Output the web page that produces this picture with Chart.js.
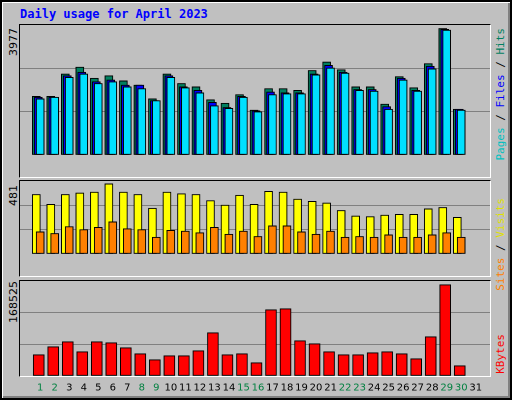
<!DOCTYPE html>
<html>
<head>
<meta charset="utf-8">
<script src="https://cdn.jsdelivr.net/npm/chart.js@4/dist/chart.umd.min.js"></script>
<style>
  body { margin: 0; background: #fff; }
  #frame { position: absolute; left: 0; top: 0; width: 508px; height: 396px; background: #c0c0c0;
           border: 2px solid #000; box-shadow: inset 1px 1px 0 #fff, inset -2px -2px 0 #808080; }
  canvas, .panel, .lbl { position: absolute; }
  .panel { border-top: 1px solid #000; border-left: 1px solid #000; border-right: 1px solid #fff; border-bottom: 1px solid #fff; pointer-events: none; z-index: 2; }
  .lbl { font-family: "DejaVu Sans Mono", monospace; font-size: 11px; writing-mode: vertical-rl; transform: rotate(180deg); white-space: nowrap; }
  #title { position: absolute; left: 20px; top: 7px; font: bold 12px "DejaVu Sans Mono", monospace; color: #0000ff; }
</style>
</head>
<body>
<div id="frame"></div>
<div id="title">Daily usage for April 2023</div>

<div class="panel" style="left:19px;top:24px;width:470px;height:152px"></div>
<div class="panel" style="left:19px;top:180px;width:470px;height:95px"></div>
<div class="panel" style="left:19px;top:280px;width:470px;height:95px"></div>

<canvas id="c1" width="470" height="152" style="left:20px;top:25px;width:470px;height:152px"></canvas>
<canvas id="c2" width="470" height="95" style="left:20px;top:181px;width:470px;height:95px"></canvas>
<canvas id="c3" width="470" height="117" style="left:20px;top:281px;width:470px;height:117px"></canvas>

<div class="lbl" style="left:7px;top:28px;font-family:'DejaVu Sans';">3977</div>
<div class="lbl" style="left:7px;top:185px;font-family:'DejaVu Sans';">481</div>
<div class="lbl" style="left:7px;top:281px;font-family:'DejaVu Sans';">168525</div>
<div class="lbl" style="left:494px;top:28px"><span style="color:#00c0c0">Pages</span> / <span style="color:#0000ff">Files</span> / <span style="color:#008060">Hits</span></div>
<div class="lbl" style="left:494px;top:198px"><span style="color:#ff8000">Sites</span> / <span style="color:#e0e000">Visits</span></div>
<div class="lbl" style="left:494px;top:334px;color:#ff0000">KBytes</div>

<script>
const days = Array.from({length: 31}, (_, i) => i + 1);
const weekends = [1, 2, 8, 9, 15, 16, 22, 23, 29, 30];

const hits  = [1845,1845,2547,2763,2412,2493,2331,2196,1764,2547,2250,2142,1737,1629,1899,1413,2088,2088,2034,2655,2925,2682,2142,2142,1602,2466,2115,2871,3977,1440];
const files = [1818,1818,2493,2601,2304,2358,2196,2196,1710,2493,2142,2034,1656,1494,1845,1386,1980,1953,1953,2547,2817,2601,2061,2061,1521,2412,2034,2790,3950,1440];
const pages = [1764,1818,2439,2547,2250,2304,2142,2088,1710,2439,2115,1953,1548,1467,1818,1359,1899,1926,1926,2520,2736,2574,2034,2007,1440,2358,2007,2709,3924,1413];
const visits = [408,340,408,418,424,481,424,408,314,424,413,408,366,335,403,340,429,424,376,361,350,298,261,256,267,272,272,309,319,251];
const sites  = [152,141,188,167,183,220,173,167,115,162,157,146,183,136,157,120,193,193,152,136,157,115,120,115,131,115,115,131,146,115];
const kbytes = [39360,54120,63345,44900,63345,61500,52275,41205,30135,37515,37515,46740,79950,39360,41205,24600,122385,124230,65190,59655,44900,39360,39360,43050,44900,41205,31980,72570,168525,19065];

const X_MIN = 0.4, X_MAX = 31.73;

function pts(vals, shift) {
  return vals.map((v, i) => ({ x: days[i] + shift, y: v }));
}

function bars(vals, shift, color, width, order) {
  return {
    data: pts(vals, shift), backgroundColor: color, borderColor: "#000", borderWidth: 1,
    borderSkipped: false, barThickness: width, grouped: false, order: order
  };
}

function makeChart(id, datasets, ymax, showX) {
  new Chart(document.getElementById(id), {
    type: "bar",
    data: { datasets: datasets },
    options: {
      animation: false, responsive: false, devicePixelRatio: 2,
      layout: { padding: 0 },
      plugins: { legend: { display: false }, tooltip: { enabled: false } },
      scales: {
        x: {
          type: "linear", min: X_MIN, max: X_MAX, display: showX,
          border: { display: false },
          grid: { display: false, drawTicks: false },
          afterBuildTicks: a => { a.ticks = days.map(d => ({ value: d + 0.27 })); },
          afterFit: a => { a.height = 22; },
          ticks: {
            autoSkip: false, maxRotation: 0, padding: 6,
            font: { family: "DejaVu Sans", size: 10 },
            color: c => weekends.includes(Math.round(c.tick.value - 0.27)) ? "#008040" : "#000",
            callback: v => String(Math.round(v - 0.27))
          }
        },
        y: {
          min: 0, max: ymax,
          border: { display: false },
          grid: { drawTicks: false, color: c => (c.index === 1 || c.index === 2) ? "#808080" : "transparent" },
          afterBuildTicks: a => { a.ticks = [0, 1, 2, 3].map(i => ({ value: ymax * i / 3 })); },
          afterFit: a => { a.width = 0; },
          ticks: { display: false }
        }
      }
    }
  });
}

// top: hits / files / pages, overlapping and shifted
makeChart("c1", [
  bars(hits, 0, "#008060", 8, 2),
  bars(files, 0.133, "#0000ff", 8, 1),
  bars(pages, 0.267, "#00e0ff", 8, 0)
], 4085, false);

makeChart("c2", [
  bars(visits, 0, "#ffff00", 8, 1),
  bars(sites, 0.267, "#ff8000", 8, 0)
], 500, false);

makeChart("c3", [
  bars(kbytes, 0.167, "#ff0000", 11, 0)
], 175290, true);
</script>
</body>
</html>
